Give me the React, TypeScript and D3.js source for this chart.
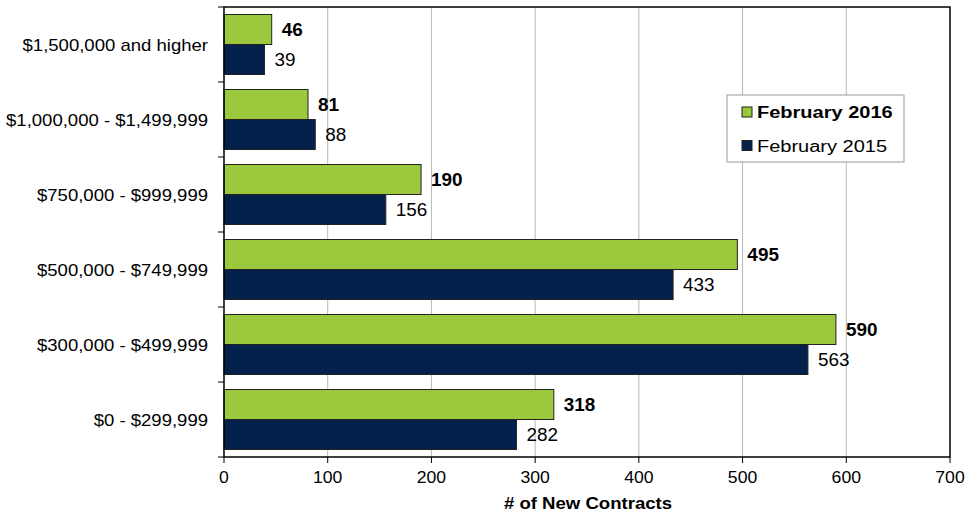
import React, { useEffect, useRef } from 'react';
import * as d3 from 'd3';

const categories = [
  '$1,500,000 and higher',
  '$1,000,000 - $1,499,999',
  '$750,000 - $999,999',
  '$500,000 - $749,999',
  '$300,000 - $499,999',
  '$0 - $299,999',
];
const feb2016 = [46, 81, 190, 495, 590, 318];
const feb2015 = [39, 88, 156, 433, 563, 282];
const seriesNames = ['February 2016', 'February 2015'];
const xTicks = [0, 100, 200, 300, 400, 500, 600, 700];

const GREEN = '#9bc83c';
const NAVY = '#03214a';

// the source text is drawn a little wider than the font would give
function stretch(sel: d3.Selection<SVGTextElement, any, any, any>, k: number) {
  sel.each(function () {
    const len = this.getComputedTextLength();
    d3.select(this).attr('textLength', len * k).attr('lengthAdjust', 'spacingAndGlyphs');
  });
}

export default function App() {
  const svgRef = useRef<SVGSVGElement>(null);

  useEffect(() => {
    if (!svgRef.current) return;
    const svg = d3.select(svgRef.current);
    svg.selectAll('*').remove();

    const margin = { top: 7, right: 16, bottom: 57, left: 224 };
    const width = 966;
    const height = 514;
    const innerWidth = width - margin.left - margin.right;
    const innerHeight = height - margin.top - margin.bottom;
    const font = 'Liberation Sans, Arial, sans-serif';

    const g = svg.append('g').attr('transform', `translate(${margin.left},${margin.top})`);

    const x = d3.scaleLinear().domain([0, 700]).range([0, innerWidth]);
    const y = d3.scaleBand<string>()
      .domain(categories)
      .range([0, innerHeight])
      .paddingInner(0.2)
      .paddingOuter(0.1);
    const sub = d3.scaleBand<string>().domain(seriesNames).range([0, y.bandwidth()]);

    // grid lines
    g.selectAll('.grid')
      .data(xTicks.slice(1, -1))
      .enter()
      .append('line')
      .attr('x1', d => x(d))
      .attr('x2', d => x(d))
      .attr('y1', 0)
      .attr('y2', innerHeight)
      .attr('stroke', '#b8b8b8')
      .attr('stroke-width', 1);

    const series = [
      { name: seriesNames[0], values: feb2016, color: GREEN, bold: true },
      { name: seriesNames[1], values: feb2015, color: NAVY, bold: false },
    ];

    series.forEach(s => {
      g.selectAll(null)
        .data(categories)
        .enter()
        .append('rect')
        .attr('x', 0)
        .attr('y', d => (y(d) as number) + (sub(s.name) as number))
        .attr('width', (d, i) => x(s.values[i]))
        .attr('height', sub.bandwidth())
        .attr('fill', s.color)
        .attr('stroke', '#222')
        .attr('stroke-width', 1);

      const vals = g.selectAll(null)
        .data(categories)
        .enter()
        .append('text')
        .attr('x', (d, i) => x(s.values[i]) + 10)
        .attr('y', d => (y(d) as number) + (sub(s.name) as number) + sub.bandwidth() / 2)
        .attr('dy', '0.38em')
        .attr('font-family', font)
        .attr('font-size', 18)
        .attr('font-weight', s.bold ? 'bold' : 'normal')
        .attr('fill', '#000')
        .text((d, i) => s.values[i]);
      stretch(vals as any, 1.05);
    });

    // frame
    g.append('rect')
      .attr('x', 0)
      .attr('y', 0)
      .attr('width', innerWidth)
      .attr('height', innerHeight)
      .attr('fill', 'none')
      .attr('stroke', '#000')
      .attr('stroke-width', 1.5);

    // y category ticks
    const bounds = d3.range(categories.length + 1).map(i => i * y.step());
    g.selectAll('.ytick')
      .data(bounds)
      .enter()
      .append('line')
      .attr('x1', -6)
      .attr('x2', 0)
      .attr('y1', d => d)
      .attr('y2', d => d)
      .attr('stroke', '#000');

    const ylabels = g.selectAll('.ylabel')
      .data(categories)
      .enter()
      .append('text')
      .attr('x', -16)
      .attr('y', d => (y(d) as number) + y.bandwidth() / 2)
      .attr('dy', '0.38em')
      .attr('text-anchor', 'end')
      .attr('font-family', font)
      .attr('font-size', 17)
      .attr('fill', '#000')
      .text(d => d);
    stretch(ylabels as any, 1.09);

    // x ticks
    g.selectAll('.xtick')
      .data(xTicks)
      .enter()
      .append('line')
      .attr('x1', d => x(d))
      .attr('x2', d => x(d))
      .attr('y1', innerHeight)
      .attr('y2', innerHeight + 6)
      .attr('stroke', '#000');

    const xlabels = g.selectAll('.xlabel')
      .data(xTicks)
      .enter()
      .append('text')
      .attr('x', d => x(d))
      .attr('y', innerHeight + 26)
      .attr('text-anchor', 'middle')
      .attr('font-family', font)
      .attr('font-size', 16)
      .attr('fill', '#000')
      .text(d => d);
    stretch(xlabels as any, 1.1);

    const title = g.append('text')
      .attr('x', x(350) + 1)
      .attr('y', innerHeight + 52)
      .attr('text-anchor', 'middle')
      .attr('font-family', font)
      .attr('font-size', 16)
      .attr('font-weight', 'bold')
      .attr('fill', '#000')
      .text('# of New Contracts');
    stretch(title as any, 1.16);

    // legend
    const lg = svg.append('g').attr('transform', 'translate(727,95)');
    lg.append('rect')
      .attr('width', 177)
      .attr('height', 67)
      .attr('fill', '#fff')
      .attr('stroke', '#999')
      .attr('stroke-width', 1);
    series.forEach((s, i) => {
      const cy = 17 + i * 33.5;
      lg.append('rect')
        .attr('x', 15)
        .attr('y', cy - 5)
        .attr('width', 10)
        .attr('height', 10)
        .attr('fill', s.color)
        .attr('stroke', '#222');
      const t = lg.append('text')
        .attr('x', 30)
        .attr('y', cy)
        .attr('dy', '0.38em')
        .attr('font-family', font)
        .attr('font-size', 16)
        .attr('font-weight', s.bold ? 'bold' : 'normal')
        .attr('fill', '#000')
        .text(s.name);
      stretch(t as any, 1.25);
    });
  }, []);

  return (
    <svg
      ref={svgRef}
      width={966}
      height={514}
      style={{ position: 'absolute', left: 0, top: 0, background: '#fff' }}
    />
  );
}
